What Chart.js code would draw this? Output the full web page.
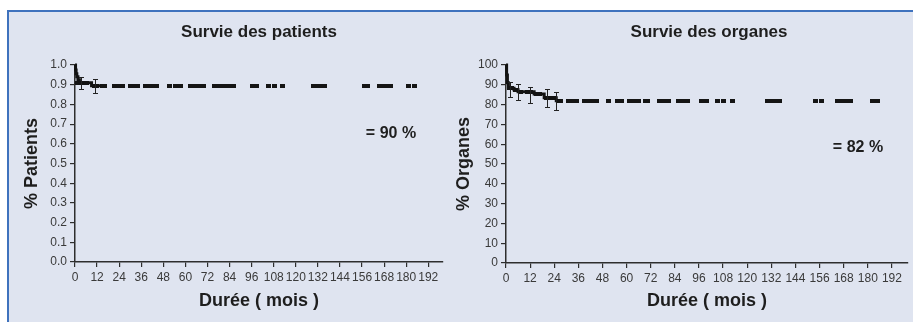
<!DOCTYPE html>
<html><head><meta charset="utf-8">
<script src="https://cdn.jsdelivr.net/npm/chart.js@4/dist/chart.umd.min.js"></script>
<style>
html,body{margin:0;padding:0;background:#fff;width:913px;height:322px;overflow:hidden;font-family:"Liberation Sans",Arial,sans-serif}
#panel{position:absolute;left:7px;top:10px;width:930px;height:340px;background:#dfe4f0;border-top:2px solid #3f72bd;border-left:2px solid #3f72bd;}
canvas{position:absolute;top:0}
.title{position:absolute;font-weight:bold;font-size:17px;color:#1e1e1e;transform:translate(-50%,-50%);white-space:nowrap}
.note{position:absolute;font-weight:bold;font-size:16px;color:#1e1e1e;transform:translate(-50%,-50%);white-space:nowrap}
</style></head>
<body>
<div id="panel"></div>
<canvas id="c1" width="455" height="322" style="left:0"></canvas>
<canvas id="c2" width="458" height="322" style="left:455px"></canvas>
<div class="title" style="left:259px;top:32px">Survie des patients</div>
<div class="title" style="left:709px;top:32px">Survie des organes</div>
<div class="note" style="left:391px;top:133px">= 90 %</div>
<div class="note" style="left:858px;top:147px">= 82 %</div>
<script>
// ---- Patients survival (left) ----
const patStepT = [0, 0.3, 0.6, 1.0, 1.6, 2.4, 9, 14];
const patStepS = [1.0, 0.975, 0.955, 0.94, 0.925, 0.91, 0.895, 0.895];
const patCensT = [1.2, 2.5, 3.8, 5.0, 6.3, 10.5, 11.8, 14.8, 16.2, 21.3, 23.8, 25.8, 30, 32.5, 34, 38.2, 40.7, 43, 44.3, 51.2, 54.5, 57.3, 62.6, 65.2, 67.7, 69.7, 76, 78.6, 81, 83.5, 86, 96.3, 98.7, 105.3, 108.2, 112.5, 129.8, 132.3, 134.8, 135.7, 157.3, 159.2, 165.3, 168, 170.6, 171.2, 181.3, 184.7];
const patCensS = [0.91, 0.91, 0.91, 0.91, 0.91, 0.895, 0.895, 0.895, 0.895, 0.895, 0.895, 0.895, 0.895, 0.895, 0.895, 0.895, 0.895, 0.895, 0.895, 0.895, 0.895, 0.895, 0.895, 0.895, 0.895, 0.895, 0.895, 0.895, 0.895, 0.895, 0.895, 0.895, 0.895, 0.895, 0.895, 0.895, 0.895, 0.895, 0.895, 0.895, 0.895, 0.895, 0.895, 0.895, 0.895, 0.895, 0.895, 0.895];
const patErrT = [3, 11];
const patErrLo = [0.88, 0.86];
const patErrHi = [0.94, 0.93];

// ---- Organ survival (right) ----
const orgStepT = [0, 0.3, 0.7, 1.2, 4, 6, 14, 19, 25, 27.5];
const orgStepS = [100, 95, 91, 88.3, 87.5, 86.5, 85.3, 83.5, 82, 82];
const orgCensT = [1.6, 2.9, 4.9, 7.0, 10.5, 12.3, 15.0, 16.8, 20.2, 22.2, 23.8, 26.0, 27.3, 31.2, 33.5, 35.3, 39, 41.5, 43.6, 45.2, 51, 55.7, 57.3, 61.6, 64, 66, 69.2, 70.3, 76.2, 78.6, 81, 85.7, 88, 90.3, 97.2, 99.8, 105.2, 108.3, 112.5, 130.2, 132.7, 135, 136.3, 154.2, 156.8, 164.7, 167, 169.4, 171.3, 182.2, 184.8];
const orgCensS = [88.3, 88.3, 87.5, 86.5, 86.5, 86.5, 85.3, 85.3, 83.5, 83.5, 83.5, 82, 82, 82, 82, 82, 82, 82, 82, 82, 82, 82, 82, 82, 82, 82, 82, 82, 82, 82, 82, 82, 82, 82, 82, 82, 82, 82, 82, 82, 82, 82, 82, 82, 82, 82, 82, 82, 82, 82, 82];
const orgErrT = [2, 6, 12, 20.5, 25];
const orgErrLo = [83.8, 82.3, 81, 78.8, 77.5];
const orgErrHi = [91.3, 90.4, 89, 88, 86.5];

// ---- Axes ----
const xTicks = [0, 12, 24, 36, 48, 60, 72, 84, 96, 108, 120, 132, 144, 156, 168, 180, 192];
const xMax = 200;
const patYTicks = [0.0, 0.1, 0.2, 0.3, 0.4, 0.5, 0.6, 0.7, 0.8, 0.9, 1.0];
const orgYTicks = [0, 10, 20, 30, 40, 50, 60, 70, 80, 90, 100];

const mark = document.createElement('canvas');
mark.width = 5; mark.height = 4;
(function(){ const m = mark.getContext('2d'); m.fillStyle = '#151515'; m.fillRect(0,0,5,4); })();

const errorBars = {
  id: 'errorBars',
  afterDatasetsDraw(chart, args, opts) {
    const {ctx, scales: {x, y}} = chart;
    ctx.save();
    ctx.strokeStyle = '#222'; ctx.lineWidth = 1;
    opts.t.forEach((t, i) => {
      const px = Math.round(x.getPixelForValue(t)) + 0.5;
      const lo = Math.round(y.getPixelForValue(opts.lo[i])) + 0.5;
      const hi = Math.round(y.getPixelForValue(opts.hi[i])) + 0.5;
      ctx.beginPath();
      ctx.moveTo(px, lo); ctx.lineTo(px, hi);
      ctx.moveTo(px - 2.5, lo); ctx.lineTo(px + 2.5, lo);
      ctx.moveTo(px - 2.5, hi); ctx.lineTo(px + 2.5, hi);
      ctx.stroke();
    });
    ctx.restore();
  }
};

const axisColor = '#2e2e2e';
const tickFont = {family: '"Liberation Sans", Arial, sans-serif', size: 12};
const titleFont = {family: '"Liberation Sans", Arial, sans-serif', size: 18, weight: 'bold', lineHeight: 1};

function build(id, stepT, stepS, censT, censS, errT, errLo, errHi, yTicks, yTitle, yFmt, pad, yW, xH) {
  new Chart(document.getElementById(id), {
    data: {
      datasets: [
        { type: 'line', data: stepT.map((t, i) => ({x: t, y: stepS[i]})), stepped: true,
          borderColor: '#121212', borderWidth: 3, pointRadius: 0, fill: false, clip: false },
        { type: 'scatter', data: censT.map((t, i) => ({x: t, y: censS[i]})),
          pointStyle: mark, pointRadius: 3, clip: false }
      ]
    },
    options: {
      responsive: false, animation: false, devicePixelRatio: 1,
      layout: {padding: pad},
      plugins: { legend: {display: false}, tooltip: {enabled: false},
        errorBars: {t: errT, lo: errLo, hi: errHi} },
      scales: {
        x: { type: 'linear', min: 0, max: xMax,
          afterBuildTicks: s => { s.ticks = xTicks.map(v => ({value: v})); },
          afterFit: s => { s.height = xH; },
          ticks: { autoSkip: false, maxRotation: 0, minRotation: 0, color: '#3a3a3a', font: tickFont, padding: 3 },
          grid: { drawOnChartArea: false, drawTicks: true, tickLength: 5, color: axisColor, lineWidth: 1.2 },
          border: { color: axisColor, width: 1.5 },
          title: { display: true, text: 'Durée ( mois )', color: '#1e1e1e', font: titleFont, padding: {top: 0, bottom: 0} }
        },
        y: { type: 'linear', min: 0, max: yTicks[yTicks.length - 1],
          afterBuildTicks: s => { s.ticks = yTicks.map(v => ({value: v})); },
          afterFit: s => { s.width = yW; },
          ticks: { autoSkip: false, color: '#3a3a3a', font: tickFont, padding: 3, callback: yFmt },
          grid: { drawOnChartArea: false, drawTicks: true, tickLength: 5, color: axisColor, lineWidth: 1.2 },
          border: { color: axisColor, width: 1.5 },
          title: { display: true, text: yTitle, color: '#1e1e1e', font: titleFont, padding: {top: 0, bottom: 0} }
        }
      }
    },
    plugins: [errorBars]
  });
}

build('c1', patStepT, patStepS, patCensT, patCensS, patErrT, patErrLo, patErrHi,
  patYTicks, '% Patients', v => Number(v).toFixed(1), {left: 23, top: 65, right: 12, bottom: 12}, 52, 48);
build('c2', orgStepT, orgStepS, orgCensT, orgCensS, orgErrT, orgErrLo, orgErrHi,
  orgYTicks, '% Organes', v => String(v), {left: 0, top: 65, right: 0, bottom: 12}, 51, 47);
</script>
</body></html>
